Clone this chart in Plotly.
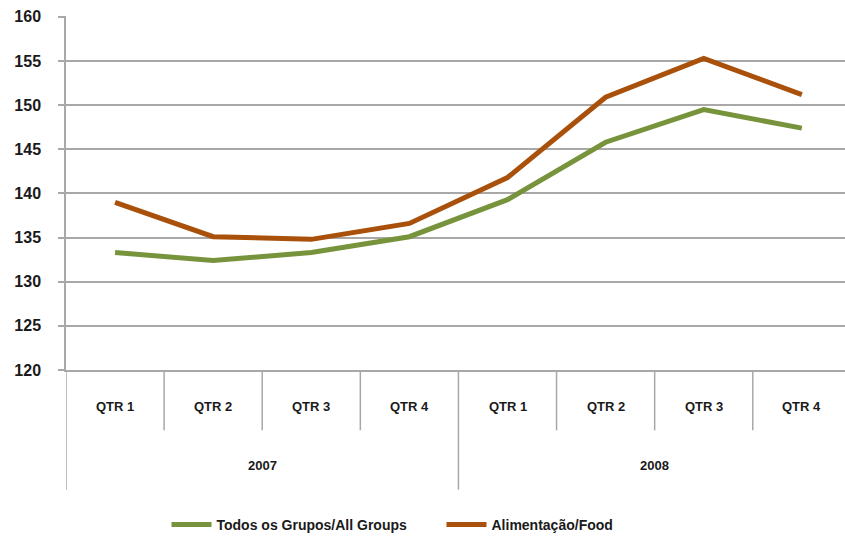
import plotly.graph_objects as go

years = ["2007", "2008"]
quarters = ["QTR 1", "QTR 2", "QTR 3", "QTR 4"]
all_groups = [133.3, 132.4, 133.3, 135.1, 139.3, 145.8, 149.5, 147.4]
food = [139.0, 135.1, 134.8, 136.6, 141.8, 150.9, 155.3, 151.2]
y_ticks = [120, 125, 130, 135, 140, 145, 150, 155, 160]

cats = [f"{y} {q}" for y in years for q in quarters]

font_family = "Liberation Sans Narrow, Liberation Sans, Arial"
grid = "#A8A8A8"
txt = "#1a1a1a"

top, bottom, height, width = 16, 374, 541, 845
ph = bottom - top

def below(pix):
    """paper y for a row at a given pixel below the plot"""
    return -(pix - bottom) / ph

fig = go.Figure()
fig.add_trace(go.Scatter(x=cats, y=all_groups, mode="lines",
                         name="Todos os Grupos/All Groups",
                         line=dict(color="#77933C", width=5)))
fig.add_trace(go.Scatter(x=cats, y=food, mode="lines",
                         name="Alimentação/Food",
                         line=dict(color="#A9510B", width=5)))

annotations = []
shapes = []
n_q = len(quarters)
for yi, yr in enumerate(years):
    for qi, q in enumerate(quarters):
        idx = yi * n_q + qi
        annotations.append(dict(x=cats[idx], y=below(411), xref="x", yref="paper",
                                text=q, showarrow=False, yanchor="middle",
                                font=dict(family=font_family, size=13, color=txt, weight="bold")))
        if qi > 0:
            shapes.append(dict(type="line", xref="x", yref="paper",
                               x0=idx - 0.5, x1=idx - 0.5, y0=0, y1=below(435),
                               line=dict(color=grid, width=1.5)))
    annotations.append(dict(x=yi * n_q + (n_q - 1) / 2, y=below(471), xref="x", yref="paper",
                            text=yr, showarrow=False, yanchor="middle",
                            font=dict(family=font_family, size=13, color=txt, weight="bold")))
    shapes.append(dict(type="line", xref="x", yref="paper",
                       x0=yi * n_q - 0.5, x1=yi * n_q - 0.5, y0=0, y1=below(495),
                       line=dict(color=grid, width=1.5)))

fig.update_layout(
    width=width, height=height,
    margin=dict(l=66, r=0, t=top, b=height - bottom),
    plot_bgcolor="white", paper_bgcolor="white",
    font=dict(family=font_family, size=13, color=txt),
    showlegend=True,
    legend=dict(orientation="h", x=0.129, xanchor="left", y=below(531), yanchor="middle",
                font=dict(family=font_family, size=14, color=txt, weight="bold"),
                itemwidth=40, entrywidth=220, traceorder="normal"),
    annotations=annotations,
    shapes=shapes,
    xaxis=dict(type="category", range=[-0.5, 7.44], showticklabels=False, showgrid=False,
               showline=True, linecolor=grid, linewidth=1.5, ticks="", zeroline=False,
               automargin=False),
    yaxis=dict(range=[120, 160.1], tickvals=y_ticks, showgrid=True, gridcolor=grid,
               gridwidth=1.5, showline=True, linecolor=grid, linewidth=1.5,
               ticks="outside", ticklen=6, tickcolor=grid, tickwidth=1.5,
               ticklabelstandoff=14, automargin=False,
               tickfont=dict(family=font_family, size=16, weight="bold", color=txt),
               zeroline=False),
)

fig.write_html("out.html", config={"displayModeBar": False},
               post_script="document.body.style.margin='0';document.body.style.overflow='hidden';")
